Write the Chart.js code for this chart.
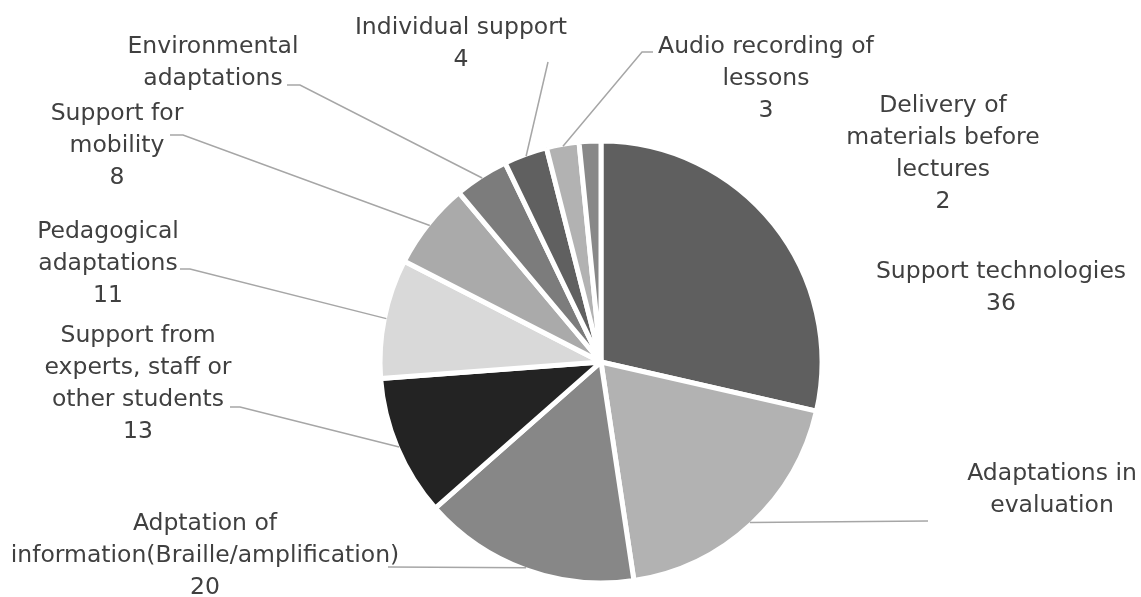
<!DOCTYPE html>
<html>
<head>
<meta charset="utf-8">
<script src="https://cdn.jsdelivr.net/npm/chart.js@4"></script>
<style>
  html, body { margin: 0; padding: 0; background: #fff; }
  #wrap { width: 1141px; height: 597px; position: relative; }
</style>
</head>
<body>
<div id="wrap"><canvas id="pie"></canvas></div>
<script>
// data
const categories = [
    ['Support technologies'],
    ['Adaptations in', 'evaluation'],
    ['Adptation of', 'information(Braille/amplification)'],
    ['Support from', 'experts, staff or', 'other students'],
    ['Pedagogical', 'adaptations'],
    ['Support for', 'mobility'],
    ['Environmental', 'adaptations'],
    ['Individual support'],
    ['Audio recording of', 'lessons'],
    ['Delivery of', 'materials before', 'lectures']
];
const values = [36, 24, 20, 13, 11, 8, 5, 4, 3, 2];
const showValue = [true, false, true, true, true, true, false, true, true, true];
const colors = ['#5f5f5f', '#b2b2b2', '#878787', '#232323', '#d9d9d9', '#aaaaaa', '#7c7c7c', '#606060', '#b2b2b2', '#888888'];

// label layout, relative to the pie centre: block centre x, first baseline y
const labelAnchor = [
    [400, -84], [451, 118], [-396, 168], [-463, -20], [-493, -124],
    [-484, -242], [-388, -309], [-140, -328], [165, -309], [342, -250]
];
// leader line points (from the label side) relative to pie centre
const leaderPts = [
    null,
    [[327, 159]],
    [[-213, 205]],
    [[-371, 45], [-361, 45]],
    [[-421, -93], [-411, -93]],
    [[-431, -227], [-418, -227]],
    [[-314, -277], [-301, -277]],
    [[-53, -300]],
    [[52, -310], [41, -310]],
    null
];

const FONT = '23.5px "DejaVu Sans", sans-serif';
const LINE_H = 32;

const outsideLabels = {
    id: 'outsideLabels',
    afterDatasetsDraw(chart) {
        const ctx = chart.ctx;
        const meta = chart.getDatasetMeta(0);
        ctx.save();
        meta.data.forEach((arc, i) => {
            const p = arc.getProps(['x', 'y', 'startAngle', 'endAngle', 'outerRadius'], true);
            const mid = (p.startAngle + p.endAngle) / 2;
            const r = p.outerRadius - 2;
            // leader line
            if (leaderPts[i]) {
                ctx.beginPath();
                ctx.strokeStyle = '#a6a6a6';
                ctx.lineWidth = 1.5;
                leaderPts[i].forEach((pt, k) => {
                    if (k === 0) ctx.moveTo(p.x + pt[0], p.y + pt[1]);
                    else ctx.lineTo(p.x + pt[0], p.y + pt[1]);
                });
                ctx.lineTo(p.x + Math.cos(mid) * r, p.y + Math.sin(mid) * r);
                ctx.stroke();
            }
            // text
            const lines = categories[i].slice();
            if (showValue[i]) lines.push(String(values[i]));
            ctx.font = FONT;
            ctx.fillStyle = '#404040';
            ctx.textAlign = 'center';
            ctx.textBaseline = 'alphabetic';
            const cx = p.x + labelAnchor[i][0];
            const by = p.y + labelAnchor[i][1];
            lines.forEach((t, k) => ctx.fillText(t, cx, by + k * LINE_H));
        });
        ctx.restore();
    }
};

new Chart(document.getElementById('pie').getContext('2d'), {
    type: 'pie',
    data: {
        labels: categories.map(c => c.join(' ')),
        datasets: [{
            data: values,
            backgroundColor: colors,
            borderColor: '#ffffff',
            borderWidth: 5,
            radius: 221
        }]
    },
    options: {
        responsive: true,
        maintainAspectRatio: false,
        animation: false,
        layout: { padding: { left: 161, right: 100, top: 137, bottom: 10 } },
        plugins: {
            legend: { display: false },
            tooltip: { enabled: false }
        }
    },
    plugins: [outsideLabels]
});
</script>
</body>
</html>
